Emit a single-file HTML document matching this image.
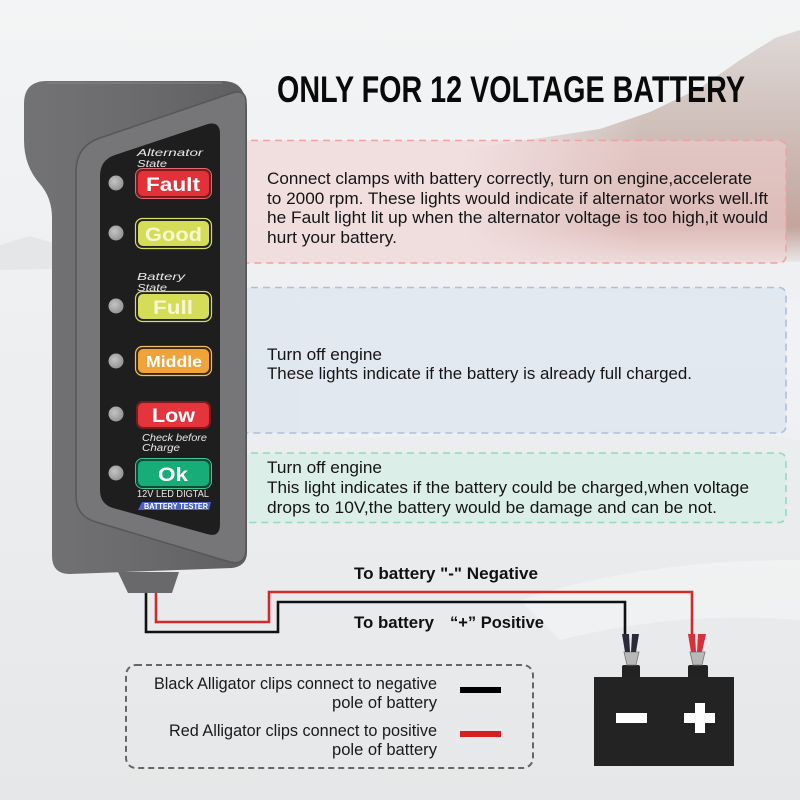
<!DOCTYPE html>
<html><head><meta charset="utf-8"><style>
html,body{margin:0;padding:0;width:800px;height:800px;overflow:hidden;background:#eceef0}
svg{display:block}
text{font-family:"Liberation Sans",sans-serif}
</style></head><body>
<svg width="800" height="800" viewBox="0 0 800 800" xmlns="http://www.w3.org/2000/svg">
<defs>
<linearGradient id="bg" x1="0" y1="0" x2="0" y2="1">
<stop offset="0" stop-color="#f2f4f5"/><stop offset="0.5" stop-color="#eceef0"/><stop offset="1" stop-color="#e6e7e8"/>
</linearGradient>
<linearGradient id="mtnv" gradientUnits="userSpaceOnUse" x1="0" y1="30" x2="0" y2="262">
<stop offset="0" stop-color="#d8d0cc"/><stop offset="0.45" stop-color="#c4aca4"/><stop offset="0.85" stop-color="#b58c82"/><stop offset="1" stop-color="#e8e4e4"/>
</linearGradient>
<linearGradient id="mtnh" gradientUnits="userSpaceOnUse" x1="460" y1="0" x2="640" y2="0">
<stop offset="0" stop-color="#000"/><stop offset="1" stop-color="#fff"/>
</linearGradient>
<mask id="mtnmask"><rect x="0" y="0" width="800" height="800" fill="url(#mtnh)"/></mask>
<linearGradient id="body" x1="0" y1="0" x2="1" y2="0">
<stop offset="0" stop-color="#737375"/><stop offset="0.5" stop-color="#6b6b6d"/><stop offset="1" stop-color="#5f5f61"/>
</linearGradient>
<radialGradient id="led" cx="0.4" cy="0.4" r="0.6">
<stop offset="0" stop-color="#c4c4c4"/><stop offset="1" stop-color="#959595"/>
</radialGradient>
</defs>
<rect width="800" height="800" fill="url(#bg)"/>
<!-- mountain -->
<path d="M460,150 L540,138 L600,129 L650,112 L700,88 L740,60 L775,38 L800,30 L800,262 L460,262 Z" fill="url(#mtnv)" opacity="0.75" mask="url(#mtnmask)"/>
<path d="M0,245 L30,236 L70,248 L88,252 L88,268 L0,270 Z" fill="#d6d6d7" opacity="0.4"/>
<!-- car faint -->
<path d="M300,300 Q420,280 560,290 L800,300 L800,440 Q700,420 600,430 L300,440 Z" fill="#ffffff" opacity="0.2"/>
<path d="M520,600 Q640,560 800,560 L800,620 Q680,610 560,640 Z" fill="#ffffff" opacity="0.35"/>

<!-- info boxes -->
<rect x="88" y="140.5" width="698" height="122.5" rx="7" fill="#f3cfcf" fill-opacity="0.55" stroke="#eba3a3" stroke-width="1.6" stroke-dasharray="7,5"/>
<rect x="88" y="287.5" width="698" height="145.5" rx="7" fill="#d9e3ee" fill-opacity="0.6" stroke="#a9c1dc" stroke-width="1.6" stroke-dasharray="7,5"/>
<rect x="88" y="453" width="698" height="69.5" rx="7" fill="#d4efe6" fill-opacity="0.7" stroke="#93d9c2" stroke-width="1.6" stroke-dasharray="7,5"/>

<g font-size="16.5" fill="#141414">
<text x="267" y="184" textLength="485" lengthAdjust="spacingAndGlyphs">Connect clamps with battery correctly, turn on engine,accelerate</text>
<text x="267" y="204" textLength="501" lengthAdjust="spacingAndGlyphs">to 2000 rpm. These lights would indicate if alternator works well.Ift</text>
<text x="267" y="223" textLength="501" lengthAdjust="spacingAndGlyphs">he Fault light lit up when the alternator voltage is too high,it would</text>
<text x="267" y="243" textLength="130" lengthAdjust="spacingAndGlyphs">hurt your battery.</text>
<text x="267" y="360" textLength="115" lengthAdjust="spacingAndGlyphs">Turn off engine</text>
<text x="267" y="379" textLength="425" lengthAdjust="spacingAndGlyphs">These lights indicate if the battery is already full charged.</text>
<text x="267" y="473" textLength="115" lengthAdjust="spacingAndGlyphs">Turn off engine</text>
<text x="267" y="493" textLength="482" lengthAdjust="spacingAndGlyphs">This light indicates if the battery could be charged,when voltage</text>
<text x="267" y="513" textLength="450" lengthAdjust="spacingAndGlyphs">drops to 10V,the battery would be damage and can be not.</text>
</g>

<!-- title -->
<text x="277" y="102" font-size="37" font-weight="bold" fill="#0a0a0a" textLength="468" lengthAdjust="spacingAndGlyphs">ONLY FOR 12 VOLTAGE BATTERY</text>

<!-- wires -->
<path d="M156,590 L156,622 L269,622 L269,592 L692,592 L692,636" fill="none" stroke="#d22a2a" stroke-width="2.6"/>
<path d="M146,590 L146,632 L278,632 L278,602 L625,602 L625,636" fill="none" stroke="#111" stroke-width="2.6"/>

<!-- wire labels -->
<g font-size="17" font-weight="bold" fill="#111">
<text x="354" y="579" textLength="184" lengthAdjust="spacingAndGlyphs">To battery "-" Negative</text>
<text x="354" y="628" textLength="80" lengthAdjust="spacingAndGlyphs">To battery</text>
<text x="450" y="628" textLength="94" lengthAdjust="spacingAndGlyphs">“+” Positive</text>
</g>

<!-- device -->
<path d="M118,572 L179,572 L172,593 L128,593 Z" fill="#69696b"/>
<path d="M47,81 L222,81 Q238,81 243,92 Q247,98 247,110 L247,552 Q247,566 232,568 L70,574 Q52,574 52,556 L52,218 Q52,198 40,184 Q24,166 24,140 L24,104 Q24,81 47,81 Z" fill="url(#body)"/>
<path d="M47,83 L222,83" stroke="#8a8a8c" stroke-width="1.5" opacity="0.6"/>
<path d="M76,172 Q76,146 100,138 L232,93 Q246,89 246,102 L246,548 Q246,566 230,562 L96,522 Q76,516 76,496 Z" fill="#767678" stroke="#575759" stroke-width="1.5"/>
<path d="M100,176 Q100,160 115,155 L208,124 Q220,121 220,134 L220,524 Q220,538 207,534 L113,508 Q100,504 100,490 Z" fill="#1e1e1f"/>

<!-- LEDs -->
<g fill="url(#led)">
<circle cx="116" cy="183" r="7.5"/><circle cx="116" cy="233" r="7.5"/><circle cx="116" cy="306" r="7.5"/>
<circle cx="116" cy="361" r="7.5"/><circle cx="116" cy="414" r="7.5"/><circle cx="116" cy="473" r="7.5"/>
</g>

<!-- small labels -->
<g font-size="10.5" font-style="italic" fill="#e8e8e8">
<text x="137" y="156" textLength="66" lengthAdjust="spacingAndGlyphs">Alternator</text>
<text x="137" y="167" textLength="30" lengthAdjust="spacingAndGlyphs">State</text>
<text x="137" y="280" textLength="48" lengthAdjust="spacingAndGlyphs">Battery</text>
<text x="137" y="291" textLength="30" lengthAdjust="spacingAndGlyphs">State</text>
<text x="142" y="441" textLength="65" lengthAdjust="spacingAndGlyphs">Check before</text>
<text x="142" y="451" textLength="38" lengthAdjust="spacingAndGlyphs">Charge</text>
</g>
<text x="137" y="497" font-size="10" fill="#e8e8e8" textLength="72" lengthAdjust="spacingAndGlyphs">12V LED DIGTAL</text>
<path d="M142,502 L211,502 L209,510 L138,510 Z" fill="#4a5fc8"/>
<text x="144" y="509" font-size="8" font-weight="bold" fill="#ffffff" textLength="64" lengthAdjust="spacingAndGlyphs">BATTERY TESTER</text>

<!-- indicator labels -->
<g stroke-width="2">
<rect x="137" y="170" width="73" height="27" rx="6" fill="#e3313a" stroke="#7c1a1e"/>
<rect x="135.5" y="168.5" width="76" height="30" rx="7" fill="none" stroke="#e06a70" stroke-width="1"/>
<rect x="137" y="220" width="73" height="27" rx="6" fill="#d5dc58" stroke="#222"/>
<rect x="135.5" y="218.5" width="76" height="30" rx="7" fill="none" stroke="#d8de60" stroke-width="1.2"/>
<rect x="137" y="293" width="73" height="27" rx="6" fill="#d5dc58" stroke="#222"/>
<rect x="135.5" y="291.5" width="76" height="30" rx="7" fill="none" stroke="#d8de60" stroke-width="1.2"/>
<rect x="137" y="348" width="73" height="26" rx="6" fill="#efa338" stroke="#3a2a10"/>
<rect x="135.5" y="346.5" width="76" height="29" rx="7" fill="none" stroke="#f2c060" stroke-width="1.2"/>
<rect x="137" y="402" width="73" height="26" rx="6" fill="#e4353d" stroke="#7c1a1e"/>
<rect x="137" y="460" width="73" height="27" rx="6" fill="#17ad79" stroke="#0b4a34"/>
<rect x="135.5" y="458.5" width="76" height="30" rx="7" fill="none" stroke="#3cc894" stroke-width="1"/>
</g>
<g font-weight="bold" fill="#ffffff">
<text x="146" y="191" font-size="19" textLength="54" lengthAdjust="spacingAndGlyphs">Fault</text>
<text x="145" y="241" font-size="19" fill="#f6f7d2" textLength="57" lengthAdjust="spacingAndGlyphs">Good</text>
<text x="153" y="314" font-size="19" fill="#f6f7d2" textLength="40" lengthAdjust="spacingAndGlyphs">Full</text>
<text x="146" y="367" font-size="16" textLength="56" lengthAdjust="spacingAndGlyphs">Middle</text>
<text x="152" y="422" font-size="19" textLength="43" lengthAdjust="spacingAndGlyphs">Low</text>
<text x="158" y="481" font-size="19" textLength="30" lengthAdjust="spacingAndGlyphs">Ok</text>
</g>

<!-- legend -->
<rect x="126" y="665" width="407" height="103" rx="10" fill="none" stroke="#666" stroke-width="2" stroke-dasharray="6,4"/>
<g font-size="17" fill="#1a1a1a">
<text x="154" y="689" textLength="283" lengthAdjust="spacingAndGlyphs">Black Alligator clips connect to negative</text>
<text x="332" y="708" textLength="105" lengthAdjust="spacingAndGlyphs">pole of battery</text>
<text x="169" y="736" textLength="268" lengthAdjust="spacingAndGlyphs">Red Alligator clips connect to positive</text>
<text x="332" y="755" textLength="105" lengthAdjust="spacingAndGlyphs">pole of battery</text>
</g>
<rect x="460" y="687" width="41" height="6" fill="#000"/>
<rect x="460" y="731" width="41" height="6" fill="#d81e1e"/>

<!-- battery -->
<rect x="622" y="665" width="18" height="14" rx="2" fill="#222"/>
<rect x="688" y="665" width="20" height="14" rx="2" fill="#222"/>
<rect x="594" y="677" width="140" height="89" fill="#232323"/>
<rect x="616" y="713" width="31" height="10" fill="#fff"/>
<rect x="684" y="713" width="31" height="10" fill="#fff"/>
<rect x="695" y="703" width="10" height="30" fill="#fff"/>
<!-- clips -->
<g>
<path d="M624,652 L627,665 L636,665 L639,652 Z" fill="#b8b8b8" stroke="#777" stroke-width="0.8"/>
<path d="M622,634 L629,634 L630,652 L625,652 Z" fill="#2a2a3a"/>
<path d="M632,634 L639,634 L636,652 L631,652 Z" fill="#2a2a3a"/>
<path d="M690,652 L693,665 L702,665 L705,652 Z" fill="#b8b8b8" stroke="#777" stroke-width="0.8"/>
<path d="M688,634 L695,634 L696,652 L691,652 Z" fill="#d83038"/>
<path d="M698,634 L706,634 L702,652 L697,652 Z" fill="#d83038"/>
</g>
</svg>
</body></html>
